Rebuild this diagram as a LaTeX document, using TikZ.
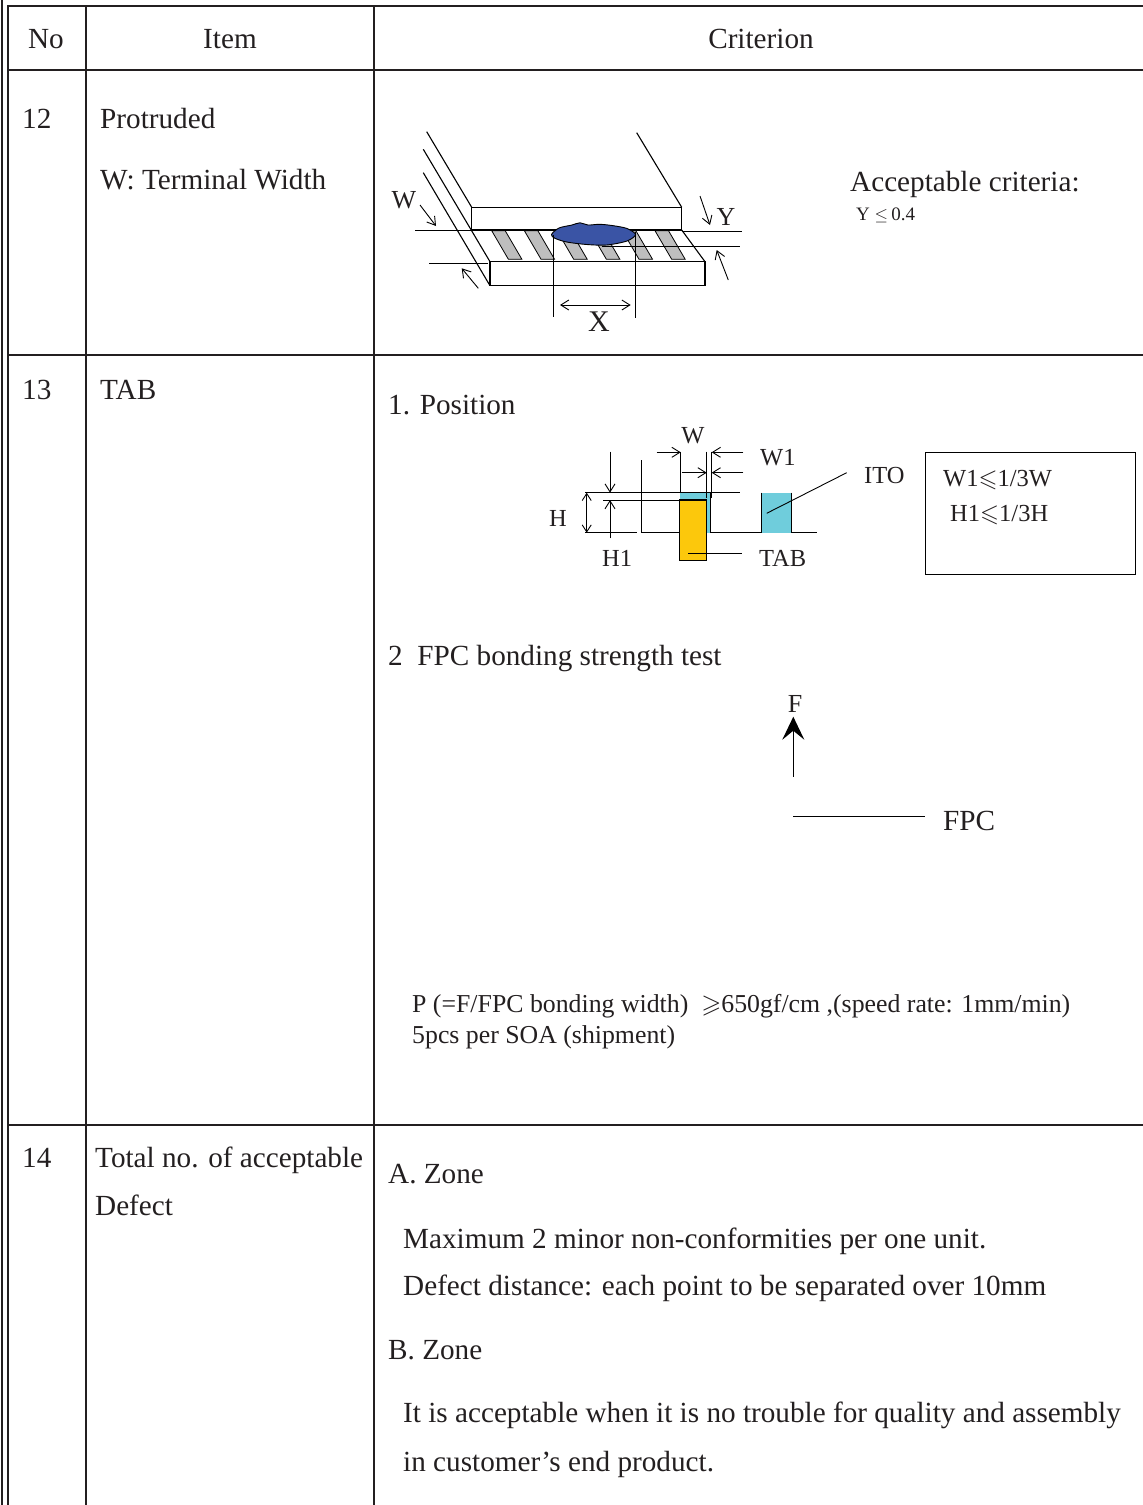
\documentclass[tikz,border=0pt]{standalone}
\usepackage{fontspec}
\setmainfont{Liberation Serif}
\usepackage{amssymb}
\usetikzlibrary{arrows.meta}
\definecolor{ink}{RGB}{35,31,32}
\definecolor{blobblue}{RGB}{58,84,165}
\definecolor{itocyan}{RGB}{111,205,220}
\definecolor{tabyellow}{RGB}{252,200,12}
\definecolor{stripegray}{RGB}{190,190,190}

\begin{document}
\begin{tikzpicture}[x=1pt,y=-1pt,
    rule/.style={line width=2pt,draw=ink},
    txt/.style={inner sep=0pt,anchor=base west,text=ink,font=\fontsize{29.2}{32}\selectfont},
    ctxt/.style={txt,anchor=base},
    lbl/.style={txt,font=\fontsize{24.5}{28}\selectfont},
    part/.style={line width=1.1pt,draw=black},
    dimline/.style={line width=0.9pt,draw=black},
    dimarrow/.style={dimline,-{Straight Barb[length=8pt,width=10pt]}},
  ]
  \useasboundingbox (0,0) rectangle (1143,1505);

  % table frame
  \draw[rule] (2,0) -- (2,1505);
  \draw[rule] (8,1505) -- (8,6) -- (1143,6);
  \draw[rule] (86,6) -- (86,1505);
  \draw[rule] (374,6) -- (374,1505);
  \foreach \y in {70,355,1125}
    \draw[rule] (8,\y) -- (1143,\y);

  % header
  \node[ctxt] (hdno) at (46,48) {No};
  \node[ctxt] (hditem) at (230,48) {Item};
  \node[ctxt] (hdcrit) at (761,48) {Criterion};

  % row 12
  \node[txt] (no12) at (22,128) {12};
  \node[txt] (item12) at (100,128) {Protruded};
  \node[txt] (item12b) at (100,189) {W: Terminal Width};
  \node[txt] (acc12) at (850,191.5) {Acceptable criteria:};
  \node[txt,font=\fontsize{19}{22}\selectfont] (crit12) at (856,220.5) {Y $\leq$\,0.4};

  % protruded sketch
  \draw[part] (426.7,131.7) -- (471.7,207.3);
  \draw[part] (636.7,132.7) -- (681.7,207.3);
  \draw[part] (423.3,149.3) -- (490,261.7);
  \draw[part] (423.3,172.7) -- (490,285.7);
  \draw[part] (681.7,230) -- (705,261.7);
  \draw[part] (490,261.7) rectangle (705,285.7);
  \foreach \i in {0,...,5}
    \draw[line width=0.8pt,fill=stripegray]
      ({491.7+32.66*\i},230.7) -- ++(13.5,0) -- ++(16.7,28.6) -- ++(-13.5,0) -- cycle;
  \draw[part,fill=white] (471.7,207.3) rectangle (681.7,230);
  \draw[line width=0.9pt,fill=blobblue] plot[smooth cycle] coordinates {
    (551.5,234.5) (559,228) (572,225) (580,222.8) (588,225) (600,224.3)
    (613.3,225.7) (627,228.5) (635.5,234.5) (627,241) (606.7,245)
    (586.7,244.5) (566.7,242) (555,238.3)};
  \draw[dimline] (415,230) -- (471.7,230);
  \draw[dimline] (429.3,263) -- (488,263);
  \draw[dimline] (681.7,231) -- (741.7,231);
  \draw[dimline] (601.7,246) -- (740,246);
  \draw[dimline] (553.3,235) -- (553.3,316.7);
  \draw[dimline] (635.7,231.7) -- (635.7,318.3);
  \draw[dimarrow] (420,205) -- (436,226);
  \draw[dimarrow] (478.3,288.3) -- (461.7,268.3);
  \draw[dimarrow] (700,196) -- (710,225);
  \draw[dimarrow] (728.3,280) -- (716.7,250);
  \draw[dimline,{Straight Barb[length=8pt,width=10pt]}-{Straight Barb[length=8pt,width=10pt]}] (560,305) -- (630.7,305);
  \node[txt,font=\fontsize{26}{28}\selectfont,anchor=base] (lw) at (404,208.3) {W};
  \node[txt,font=\fontsize{26}{28}\selectfont,anchor=base] (ly) at (726,225) {Y};
  \node[txt,font=\fontsize{30}{32}\selectfont,anchor=base] (lx) at (599,331.7) {X};

  % row 13
  \node[txt] (no13) at (22,399) {13};
  \node[txt] (item13) at (100,399) {TAB};
  \node[txt] (pos) at (388,414) {1. Position};

  % position sketch
  \draw[dimline] (585,492.7) -- (740,492.7);
  \draw[dimline] (585,532.7) -- (636.7,532.7);
  \draw[dimline] (641.7,532.7) -- (816.7,532.7);
  \draw[dimline] (641.7,460) -- (641.7,532.7);
  \draw[dimline] (603.3,500) -- (680,500);
  \draw[fill=itocyan,draw=none] (680,492.7) rectangle (710.7,532.7);
  \draw[part] (710.7,492.7) -- (710.7,532.7);
  \draw[part,fill=tabyellow] (679.3,500) rectangle (706.7,560.7);
  \draw[fill=itocyan,draw=none] (761.7,492.7) rectangle (791.7,532.7);
  \draw[part] (761.7,492.7) -- (761.7,532.7);
  \draw[part] (791.7,492.7) -- (791.7,532.7);
  \draw[dimline,{Straight Barb[length=7pt,width=9pt]}-{Straight Barb[length=7pt,width=9pt]}] (586.7,492.7) -- (586.7,532.7);
  \draw[dimarrow] (610,451.7) -- (610,492.7);
  \draw[dimarrow] (610,538.3) -- (610,500);
  \draw[dimline] (680.7,451.7) -- (680.7,492.7);
  \draw[dimline] (706.7,451.7) -- (706.7,498);
  \draw[dimline] (711.7,451.7) -- (711.7,498);
  \draw[dimarrow] (656.7,452.3) -- (680.7,452.3);
  \draw[dimarrow] (681.7,472.7) -- (706.7,472.7);
  \draw[dimarrow] (743.3,452.3) -- (711.7,452.3);
  \draw[dimarrow] (743.3,472.7) -- (711.7,472.7);
  \coordinate (itoin) at (766.7,513.3);
  \coordinate (itoout) at (846.7,472.7);
  \draw[dimline] (itoin) -- (itoout);
  \coordinate (tabin) at (688.3,553.3);
  \coordinate (tabout) at (741.7,553.3);
  \draw[dimline] (tabin) -- (tabout);
  \node[lbl,anchor=base] (lpw) at (693,443) {W};
  \node[lbl] (lpw1) at (760,465) {W1};
  \node[lbl] (lph) at (549,526) {H};
  \node[lbl] (lph1) at (602,566.7) {H1};
  \node[lbl] (lptab) at (759,566.7) {TAB};
  \node[lbl] (lpito) at (864,483) {ITO};
  \node[draw=black,line width=1.1pt,minimum width=210pt,minimum height=122pt,anchor=north west,inner sep=0pt] (critbox) at (925,452) {};
  \node[lbl] (critw) at (943,486) {W1$\leqslant$1/3W};
  \node[lbl] (crith) at (950,521) {H1$\leqslant$1/3H};

  % FPC test
  \node[txt] (fpctest) at (388,665) {2~~FPC bonding strength test};
  \coordinate (fbase) at (793.3,776.7);
  \coordinate (ftip) at (793.3,716.7);
  \draw[line width=1.3pt,-{Stealth[length=23pt,width=22pt,inset=9pt]}] (fbase) -- (ftip);
  \node[txt,font=\fontsize{26}{28}\selectfont,anchor=base] (lf) at (795,712.7) {F};
  \coordinate (fpcl) at (793.3,816.7);
  \coordinate (fpcr) at (925,816.7);
  \draw[line width=1.2pt] (fpcl) -- (fpcr);
  \node[txt] (lfpc) at (943,830) {FPC};
  \node[txt,font=\fontsize{25.8}{28}\selectfont] (pval) at (412,1012) {P (=F/FPC bonding width)~~$\geqslant$650gf/cm ,(speed rate: 1mm/min)};
  \node[txt,font=\fontsize{25.8}{28}\selectfont] (psoa) at (412,1043) {5pcs per SOA (shipment)};

  % row 14
  \node[txt] (no14) at (22,1167) {14};
  \node[txt] (item14) at (95,1167) {Total no. of acceptable};
  \node[txt] (item14b) at (95,1215) {Defect};
  \node[txt] (zonea) at (388,1183) {A. Zone};
  \node[txt] (zonea1) at (403,1248) {Maximum 2 minor non-conformities per one unit.};
  \node[txt] (zonea2) at (403,1295) {Defect distance: each point to be separated over 10mm};
  \node[txt] (zoneb) at (388,1359) {B. Zone};
  \node[txt] (zoneb1) at (403,1422) {It is acceptable when it is no trouble for quality and assembly};
  \node[txt] (zoneb2) at (403,1471) {in customer’s end product.};
\end{tikzpicture}
\end{document}
